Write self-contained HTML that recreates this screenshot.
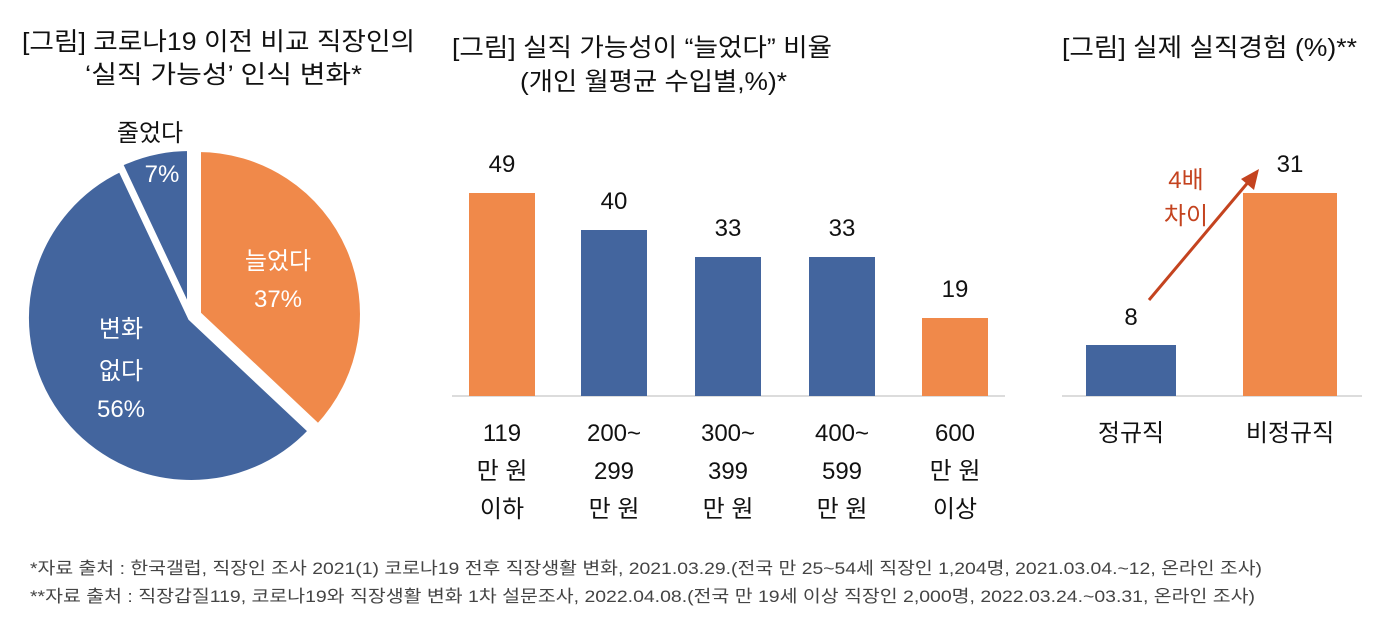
<!DOCTYPE html>
<html><head><meta charset="utf-8"><style>
body{margin:0;background:#fff;}
svg text{font-family:"Liberation Sans","Noto Sans CJK KR",sans-serif;}
</style></head><body>
<svg width="1384" height="632" viewBox="0 0 1384 632" xmlns="http://www.w3.org/2000/svg">
<g font-size="25" fill="#111">
<text x="22" y="50" textLength="393" lengthAdjust="spacingAndGlyphs">[그림] 코로나19 이전 비교 직장인의</text>
<text x="85" y="83" textLength="277" lengthAdjust="spacingAndGlyphs">‘실직 가능성’ 인식 변화*</text>
<text x="452" y="56" textLength="380" lengthAdjust="spacingAndGlyphs">[그림] 실직 가능성이 “늘었다” 비율</text>
<text x="520" y="90" textLength="267" lengthAdjust="spacingAndGlyphs">(개인 월평균 수입별,%)*</text>
<text x="1062" y="56" textLength="295" lengthAdjust="spacingAndGlyphs">[그림] 실제 실직경험 (%)**</text>
</g>
<!-- pie -->
<g stroke="#fff" stroke-width="6" stroke-linejoin="miter">
<path d="M191,318 L120.7,168.7 A165,165 0 0,1 191,153 Z" fill="#43659e" transform="translate(-1,-5)"/>
<path d="M191,318 L311.2,431 A165,165 0 1,1 120.7,168.7 Z" fill="#43659e"/>
<path d="M191,318 L191,153 A165,165 0 0,1 311.2,431 Z" fill="#f0894a" transform="translate(7,-4)"/>
</g>
<g font-size="24" text-anchor="middle">
<text x="150" y="141" fill="#111">줄었다</text>
<text x="162" y="182" fill="#fff">7%</text>
<text x="278" y="269" fill="#fff">늘었다</text>
<text x="278" y="307" fill="#fff">37%</text>
<text x="121" y="337" fill="#fff">변화</text>
<text x="121" y="379" fill="#fff">없다</text>
<text x="121" y="417" fill="#fff">56%</text>
</g>
<!-- bars -->
<line x1="452" y1="396" x2="1005" y2="396" stroke="#d0d0d0" stroke-width="1.5"/>
<rect x="469" y="193" width="66" height="203" fill="#f0894a"/>
<rect x="581" y="230" width="66" height="166" fill="#43659e"/>
<rect x="695" y="257" width="66" height="139" fill="#43659e"/>
<rect x="809" y="257" width="66" height="139" fill="#43659e"/>
<rect x="922" y="318" width="66" height="78" fill="#f0894a"/>
<g font-size="24" fill="#111" text-anchor="middle">
<text x="502" y="172">49</text><text x="614" y="209">40</text><text x="728" y="236">33</text><text x="842" y="236">33</text><text x="955" y="297">19</text>
<text x="502" y="441">119</text><text x="502" y="479">만 원</text><text x="502" y="517">이하</text>
<text x="614" y="441">200~</text><text x="614" y="479">299</text><text x="614" y="517">만 원</text>
<text x="728" y="441">300~</text><text x="728" y="479">399</text><text x="728" y="517">만 원</text>
<text x="842" y="441">400~</text><text x="842" y="479">599</text><text x="842" y="517">만 원</text>
<text x="955" y="441">600</text><text x="955" y="479">만 원</text><text x="955" y="517">이상</text>
</g>
<line x1="1062" y1="396" x2="1362" y2="396" stroke="#d0d0d0" stroke-width="1.5"/>
<rect x="1086" y="345" width="90" height="51" fill="#43659e"/>
<rect x="1243" y="193" width="94" height="203" fill="#f0894a"/>
<g font-size="24" fill="#111" text-anchor="middle">
<text x="1131" y="325">8</text><text x="1290" y="172">31</text>
<text x="1131" y="441">정규직</text><text x="1290" y="441">비정규직</text>
</g>
<line x1="1149" y1="300" x2="1250" y2="180" stroke="#c4431f" stroke-width="3"/>
<polygon points="1259,169 1254,190 1241,179" fill="#c4431f"/>
<g font-size="24" fill="#c4431f" text-anchor="middle">
<text x="1186" y="188">4배</text><text x="1186" y="224">차이</text>
</g>
<g font-size="17" fill="#444">
<text x="30" y="574" textLength="1232" lengthAdjust="spacingAndGlyphs">*자료 출처 : 한국갤럽, 직장인 조사 2021(1) 코로나19 전후 직장생활 변화, 2021.03.29.(전국 만 25~54세 직장인 1,204명, 2021.03.04.~12, 온라인 조사)</text>
<text x="30" y="602" textLength="1225" lengthAdjust="spacingAndGlyphs">**자료 출처 : 직장갑질119, 코로나19와 직장생활 변화 1차 설문조사, 2022.04.08.(전국 만 19세 이상 직장인 2,000명, 2022.03.24.~03.31, 온라인 조사)</text>
</g>
</svg>
</body></html>
